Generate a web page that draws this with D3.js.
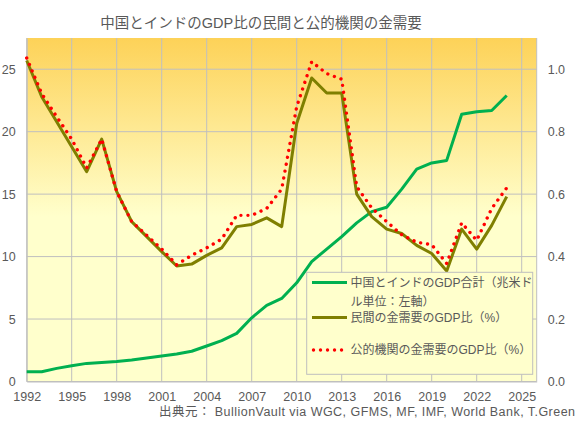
<!DOCTYPE html>
<html><head><meta charset="utf-8">
<script src="https://cdn.jsdelivr.net/npm/d3@7"></script>
<style>
html,body{margin:0;padding:0;background:#fff;}
svg{display:block;font-family:"Liberation Sans","Noto Sans CJK JP",sans-serif;}
</style></head>
<body><svg id="chart" width="581" height="425"></svg>
<script>
const years = d3.range(1992, 2025);
const gdpTotal = [0.78,0.78,1.05,1.26,1.45,1.53,1.6,1.72,1.88,2.04,2.2,2.42,2.84,3.27,3.85,5.1,6.1,6.65,7.9,9.6,10.6,11.6,12.7,13.6,13.95,15.4,17.0,17.5,17.7,21.4,21.6,21.7,22.9];
const privateDemand = [1.028,0.912,0.832,0.752,0.672,0.776,0.608,0.512,0.464,0.416,0.370,0.376,0.404,0.428,0.496,0.503,0.524,0.496,0.826,0.972,0.924,0.924,0.600,0.528,0.488,0.474,0.436,0.410,0.354,0.488,0.424,0.500,0.592];
const officialDemand = [1.036,0.922,0.848,0.776,0.684,0.776,0.608,0.512,0.468,0.424,0.374,0.404,0.428,0.456,0.532,0.532,0.554,0.616,0.880,1.024,0.986,0.968,0.624,0.556,0.512,0.470,0.446,0.438,0.378,0.508,0.452,0.554,0.620];
const xTicks = [1992,1995,1998,2001,2004,2007,2010,2013,2016,2019,2022,2025];
const leftTicks = [0,5,10,15,20,25];
const rightTicks = [0,0.2,0.4,0.6,0.8,1.0];
const seriesNames = ["中国とインドのGDP合計（兆米ドル単位：左軸）","民間の金需要のGDP比（%）","公的機関の金需要のGDP比（%）"];
const titleText = "中国とインドのGDP比の民間と公的機関の金需要";
const sourceText = "出典元：  BullionVault via WGC, GFMS, MF, IMF, World Bank, T.Green";

const svg = d3.select("#chart");
const L = 26.7, R = 536.7, T = 38, B = 381.5;
const x = d3.scaleLinear().domain([1992, 2026]).range([L, R]);
const yL = d3.scaleLinear().domain([0, 27.5]).range([B, T]);
const yR = d3.scaleLinear().domain([0, 1.1]).range([B, T]);
const textCol = "#595959", gridCol = "#bfbfbf";

const defs = svg.append("defs");
const grad = defs.append("linearGradient").attr("id","bg").attr("x1",0).attr("y1",0).attr("x2",0).attr("y2",1);
grad.append("stop").attr("offset","0%").attr("stop-color","#fdd258");
grad.append("stop").attr("offset","52%").attr("stop-color","#ffffcc");
grad.append("stop").attr("offset","100%").attr("stop-color","#ffffcc");

svg.append("rect").attr("x",L).attr("y",T).attr("width",R-L).attr("height",B-T).attr("fill","url(#bg)");

// grid
svg.append("g").selectAll("line").data(xTicks).join("line")
  .attr("x1",d=>x(d)).attr("x2",d=>x(d)).attr("y1",T).attr("y2",B)
  .attr("stroke",gridCol).attr("stroke-width",1);
svg.append("g").selectAll("line").data(leftTicks).join("line")
  .attr("x1",L).attr("x2",R).attr("y1",d=>yL(d)).attr("y2",d=>yL(d))
  .attr("stroke",gridCol).attr("stroke-width",1);
svg.append("line").attr("x1",R).attr("x2",R).attr("y1",T).attr("y2",B).attr("stroke",gridCol);

// axes
const xAxis = d3.axisBottom(x).tickValues(xTicks).tickFormat(d3.format("d")).tickSize(0).tickPadding(11);
const gx = svg.append("g").attr("transform",`translate(0,${B})`).call(xAxis);
const yAxisL = d3.axisLeft(yL).tickValues(leftTicks).tickSize(0).tickPadding(11);
const gyl = svg.append("g").attr("transform",`translate(${L},0)`).call(yAxisL);
const yAxisR = d3.axisRight(yR).tickValues(rightTicks).tickFormat(d3.format(".1f")).tickSize(0).tickPadding(11);
const gyr = svg.append("g").attr("transform",`translate(${R},0)`).call(yAxisR);
[gx,gyl,gyr].forEach(g=>{
  g.select(".domain").attr("stroke",gridCol);
  g.selectAll("text").attr("fill",textCol).attr("font-size","12.5px").attr("font-family","'Liberation Sans',sans-serif");
});
gyr.select(".domain").remove();

// lines
const line = (ys) => d3.line().x((d,i)=>x(years[i])).y(d=>ys(d));
svg.append("path").datum(gdpTotal).attr("d",line(yL)).attr("fill","none")
  .attr("stroke","#00b050").attr("stroke-width",3).attr("stroke-linejoin","round");
svg.append("path").datum(privateDemand).attr("d",line(yR)).attr("fill","none")
  .attr("stroke","#7f7f00").attr("stroke-width",3).attr("stroke-linejoin","round");
svg.append("path").datum(officialDemand).attr("d",line(yR)).attr("fill","none")
  .attr("stroke","#ff0000").attr("stroke-width",3.4).attr("stroke-linecap","round")
  .attr("stroke-dasharray","0.01 7");

// legend
const lg = svg.append("g");
lg.append("rect").attr("x",306.7).attr("y",272.3).attr("width",226).attr("height",102)
  .attr("fill","#ffffcc").attr("stroke",gridCol).attr("stroke-width",1);
const legendRows = [
  {y:282.5, color:"#00b050", dash:null, w:3},
  {y:317.5, color:"#7f7f00", dash:null, w:3},
  {y:350, color:"#ff0000", dash:"0.01 7", w:3.4}
];
legendRows.forEach((r,i)=>{
  const ln = lg.append("line").attr("x1",312).attr("x2",347).attr("y1",r.y).attr("y2",r.y)
    .attr("stroke",r.color).attr("stroke-width",r.w);
  if(r.dash) ln.attr("stroke-dasharray",r.dash).attr("stroke-linecap","round").attr("x1",313.5);
  const t = lg.append("text").attr("x",350.5).attr("y",r.y)
    .attr("fill",textCol).attr("font-size","12px");
  const maxW = 183;
  const chars = Array.from(seriesNames[i]);
  let lineStr = "", lines = [];
  const tmp = lg.append("text").attr("font-size","12px").attr("visibility","hidden");
  chars.forEach(c=>{
    tmp.text(lineStr + c);
    if(tmp.node().getComputedTextLength() > maxW && lineStr.length){ lines.push(lineStr); lineStr = c; }
    else lineStr += c;
  });
  lines.push(lineStr);
  tmp.remove();
  lines.forEach((s,k)=>{
    t.append("tspan").attr("x",350.5).attr("dy", k===0 ? "0.36em" : "19px").text(s);
  });
});

// title
svg.append("text").attr("x",261).attr("y",28).attr("text-anchor","middle")
  .attr("fill",textCol).attr("font-size","14.5px").text(titleText);
// source
svg.append("text").attr("x",575).attr("y",416).attr("text-anchor","end")
  .attr("fill",textCol).attr("font-size","12.5px")
  .attr("textLength",416).attr("lengthAdjust","spacing").text(sourceText);
</script>
</body></html>
